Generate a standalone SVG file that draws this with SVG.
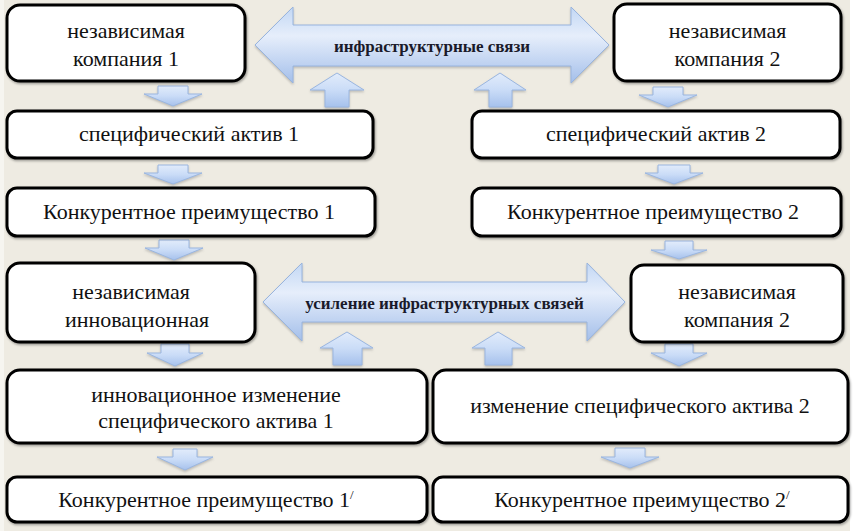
<svg xmlns="http://www.w3.org/2000/svg" width="854" height="531" viewBox="0 0 854 531">
  <defs>
    <linearGradient id="gBig" x1="0" y1="0" x2="0" y2="1">
      <stop offset="0" stop-color="#c2d7f4"/>
      <stop offset="0.38" stop-color="#e6eefb"/>
      <stop offset="1" stop-color="#a4bfea"/>
    </linearGradient>
    <linearGradient id="gSmall" x1="0" y1="0" x2="0" y2="1">
      <stop offset="0" stop-color="#e2ecfb"/>
      <stop offset="0.5" stop-color="#cadcf7"/>
      <stop offset="1" stop-color="#a6c1ec"/>
    </linearGradient>
    <filter id="sh" x="-10%" y="-10%" width="130%" height="140%">
      <feDropShadow dx="0" dy="1.5" stdDeviation="1.2" flood-color="#7a7a7a" flood-opacity="0.45"/>
    </filter>
    <filter id="bsh" x="-5%" y="-5%" width="110%" height="120%">
      <feDropShadow dx="1" dy="1.5" stdDeviation="0.8" flood-color="#000" flood-opacity="0.35"/>
    </filter>
  </defs>
  <style>
    .box { fill: #ffffff; stroke: #000000; stroke-width: 3; }
    .t { font-family: "Liberation Serif", "Times New Roman", serif; font-size: 22px; fill: #111111; text-anchor: middle; }
    .at { font-family: "Liberation Serif", "Times New Roman", serif; font-size: 17px; font-weight: bold; fill: #1a1a2a; text-anchor: middle; }
    .big { fill: url(#gBig); stroke: #98b4de; stroke-width: 1; }
    .sm { fill: url(#gSmall); stroke: #9ab6e0; stroke-width: 1; }
  </style>

  <rect x="0" y="0" width="854" height="531" fill="#eeebe2"/>
  <rect x="0" y="0" width="4" height="531" fill="#f6f5f0"/>
  <rect x="850" y="0" width="4" height="531" fill="#ffffff"/>

  <g id="connectors" filter="url(#sh)">
    <!-- big double arrows -->
    <path class="big" d="M255,45 L293,7 L293,25 L571,25 L571,7 L609,45 L571,83 L571,66 L293,66 L293,83 Z"/>
    <path class="big" d="M263,302 L302,263 L302,282 L587,282 L587,263 L625,302 L587,341 L587,322 L302,322 L302,341 Z"/>
    <!-- up arrows -->
    <path class="sm" d="M337,73 L364,90 L349,90 L349,107 L325,107 L325,90 L310,90 Z"/>
    <path class="sm" d="M500,73 L526,90 L512,90 L512,107 L489,107 L489,90 L474,90 Z"/>
    <path class="sm" d="M347,332 L373,348 L362,348 L362,365 L333,365 L333,348 L320,348 Z"/>
    <path class="sm" d="M498,332 L525,348 L512,348 L512,365 L485,365 L485,348 L472,348 Z"/>
    <!-- down arrows left -->
    <path class="sm" d="M158,86 L188,86 L188,94 L202,94 L173,106 L144,94 L158,94 Z"/>
    <path class="sm" d="M158,165 L188,165 L188,173 L202,173 L173,184 L144,173 L158,173 Z"/>
    <path class="sm" d="M159,240 L189,240 L189,248 L203,248 L174,260 L145,248 L159,248 Z"/>
    <path class="sm" d="M161,344 L189,344 L189,353 L203,353 L175,366 L147,353 L161,353 Z"/>
    <path class="sm" d="M173,449 L197,449 L197,457 L213,457 L185,470 L157,457 L173,457 Z"/>
    <!-- down arrows right -->
    <path class="sm" d="M653,87 L683,87 L683,95 L697,95 L668,107 L639,95 L653,95 Z"/>
    <path class="sm" d="M658,165 L690,165 L690,173 L703,173 L674,184 L645,173 L658,173 Z"/>
    <path class="sm" d="M665,241 L693,241 L693,250 L707,250 L679,259 L651,250 L665,250 Z"/>
    <path class="sm" d="M665,344 L693,344 L693,353 L707,353 L679,366 L651,353 L665,353 Z"/>
    <path class="sm" d="M615,448 L645,448 L645,457 L659,457 L630,468 L601,457 L615,457 Z"/>
  </g>

  <g id="arrow-labels">
    <text class="at" x="432" y="52">инфраструктурные связи</text>
    <text class="at" x="444.5" y="309">усиление инфраструктурных связей</text>
  </g>

  <g id="company1">
    <rect class="box" x="7" y="5" width="238" height="76" rx="13" filter="url(#bsh)"/>
    <text class="t" x="126" y="38">независимая</text>
    <text class="t" x="126" y="66">компания 1</text>
  </g>
  <g id="company2">
    <rect class="box" x="614" y="4" width="227" height="77" rx="13" filter="url(#bsh)"/>
    <text class="t" x="727.5" y="38">независимая</text>
    <text class="t" x="727.5" y="66">компания 2</text>
  </g>
  <g id="asset1">
    <rect class="box" x="7" y="111" width="366" height="47" rx="10" filter="url(#bsh)"/>
    <text class="t" x="189" y="141">специфический актив 1</text>
  </g>
  <g id="asset2">
    <rect class="box" x="472" y="111" width="368" height="47" rx="10" filter="url(#bsh)"/>
    <text class="t" x="656" y="141">специфический актив 2</text>
  </g>
  <g id="advantage1">
    <rect class="box" x="7" y="188" width="368" height="48" rx="10" filter="url(#bsh)"/>
    <text class="t" x="189" y="219">Конкурентное преимущество 1</text>
  </g>
  <g id="advantage2">
    <rect class="box" x="472" y="188" width="369" height="48" rx="10" filter="url(#bsh)"/>
    <text class="t" x="653" y="219">Конкурентное преимущество 2</text>
  </g>
  <g id="innovative1">
    <rect class="box" x="7" y="263" width="248" height="79" rx="13" filter="url(#bsh)"/>
    <text class="t" x="131" y="299">независимая</text>
    <text class="t" x="137" y="327">инновационная</text>
  </g>
  <g id="company2b">
    <rect class="box" x="631" y="265" width="212" height="77" rx="13" filter="url(#bsh)"/>
    <text class="t" x="737" y="299">независимая</text>
    <text class="t" x="737" y="327">компания 2</text>
  </g>
  <g id="change1">
    <rect class="box" x="7" y="370" width="420" height="73" rx="13" filter="url(#bsh)"/>
    <text class="t" x="216" y="402">инновационное изменение</text>
    <text class="t" x="216" y="428">специфического актива 1</text>
  </g>
  <g id="change2">
    <rect class="box" x="433" y="370" width="415" height="73" rx="13" filter="url(#bsh)"/>
    <text class="t" x="640" y="413">изменение специфического актива 2</text>
  </g>
  <g id="advantage1p">
    <rect class="box" x="7" y="477" width="420" height="45" rx="10" filter="url(#bsh)"/>
    <text class="t" x="206" y="507">Конкурентное преимущество 1<tspan font-size="13" dy="-8">/</tspan></text>
  </g>
  <g id="advantage2p">
    <rect class="box" x="433" y="477" width="415" height="45" rx="10" filter="url(#bsh)"/>
    <text class="t" x="642" y="507">Конкурентное преимущество 2<tspan font-size="13" dy="-8">/</tspan></text>
  </g>
</svg>
